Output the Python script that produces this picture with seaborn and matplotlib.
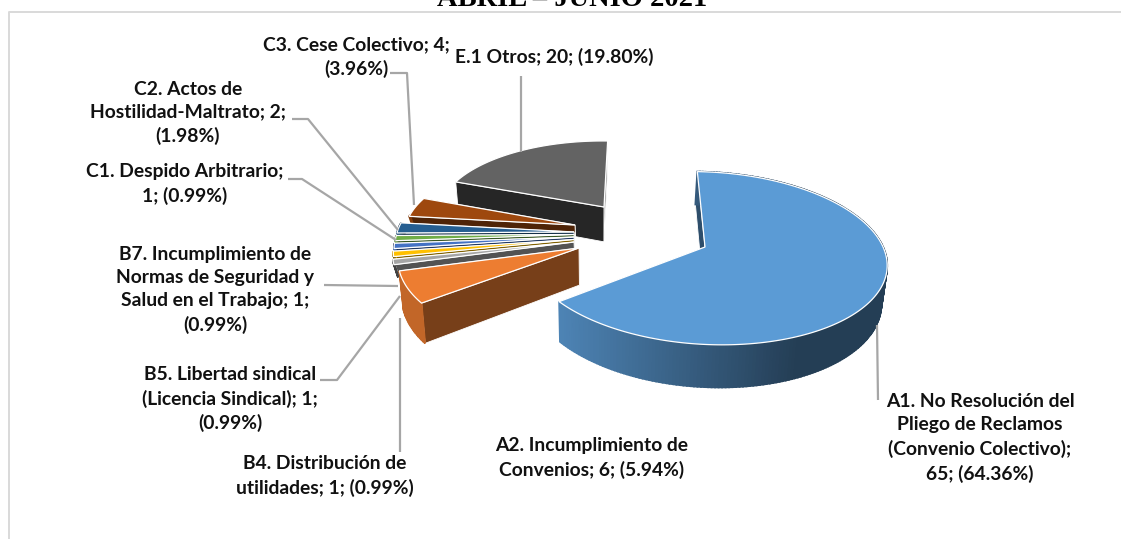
import numpy as np
import matplotlib
matplotlib.use("Agg")
import matplotlib.pyplot as plt
import matplotlib.colors as mc
from matplotlib.patches import Polygon
import seaborn as sns

# ---- data ----
names = ["A1", "A2", "B4", "B5", "B7", "C1", "C2", "C3", "E1"]
values = [65, 6, 1, 1, 1, 1, 2, 4, 20]
label_texts = [
    "A1. No Resolución del\nPliego de Reclamos\n(Convenio Colectivo);\n65; (64.36%)",
    "A2. Incumplimiento de\nConvenios; 6; (5.94%)",
    "B4. Distribución de\nutilidades; 1; (0.99%)",
    "B5. Libertad sindical\n(Licencia Sindical); 1;\n(0.99%)",
    "B7. Incumplimiento de\nNormas de Seguridad y\nSalud en el Trabajo; 1;\n(0.99%)",
    "C1. Despido Arbitrario;\n1; (0.99%)",
    "C2. Actos de\nHostilidad-Maltrato; 2;\n(1.98%)",
    "C3. Cese Colectivo; 4;\n(3.96%)",
    "E.1 Otros; 20; (19.80%)",
]
title_text = "ABRIL – JUNIO 2021"
slice_hex = ["#5B9BD5", "#ED7D31", "#A5A5A5", "#FFC000", "#4472C4",
             "#70AD47", "#255E91", "#9E480E", "#636363"]

# ---- layout (pixels of the picture) ----
W, H = 1121, 539
apex_px = [(705, 247), (579, 248), (574, 242), (574, 239.5), (574, 237),
           (574, 234.5), (574, 232), (575, 225), (604, 207)]
radii = [0.945, 0.95, 0.96, 0.96, 0.96, 0.96, 0.96, 0.93, 0.93]
depths = [36, 36, 12, 10, 10, 10, 10, 12, 36]
label_xy = [(980, 438), (592, 458), (325, 476), (230, 399), (215, 290),
            (185, 184), (188, 113), (356, 57), (554, 57)]
leaders = [
    [(877, 325), (878, 400)],
    None,
    [(400, 452), (400, 318)],
    [(320, 380), (337, 380), (400, 296)],
    [(324, 285), (398, 286)],
    [(288, 179), (302, 179), (396, 240)],
    [(292, 119), (308, 119), (398, 230)],
    [(390, 73), (407, 73), (414, 205)],
    [(521, 76), (521, 152)],
]
X0, Y0, RX, RY, P, FIRST_ANGLE = 590, 228, 183, 85, 0.133, 2
VANISH_X, SHRINK = 600, 0.98

sns.set_theme(style="white")
plt.rcParams["font.family"] = ["Lato", "DejaVu Sans"]
palette = sns.color_palette(slice_hex)


def project(u, v):
    s = 1 / (1 + P * v)
    return X0 + RX * u * s, Y0 - RY * v * s, s


def unproject(x, y):
    d = (Y0 - y) / RY
    v = d / (1 - P * d)
    return (x - X0) / RX * (1 + P * v), v


def darker(c, f):
    return tuple(np.array(mc.to_rgb(c)) * f)


def lower_x(x):
    return VANISH_X + (np.asarray(x) - VANISH_X) * SHRINK


fig = plt.figure(figsize=(W / 100, H / 100), dpi=100)
ax = fig.add_axes([0, 0, 1, 1])

# the pie gives each slice its angles; the slices are then redrawn in perspective
wedges, _ = ax.pie(values, startangle=90 - FIRST_ANGLE, counterclock=False,
                   radius=1, colors=palette)
angles = [(w.theta1, w.theta2) for w in wedges]
for w in wedges:
    w.remove()
ax.set_aspect("auto")
ax.set_xlim(0, W)
ax.set_ylim(H, 0)
ax.axis("off")

z = 2
for i in range(len(values) - 1, -1, -1):
    t1, t2 = np.radians(angles[i])
    col = palette[i]
    au, av = unproject(*apex_px[i])
    th = np.linspace(t1, t2, max(8, int(np.degrees(t2 - t1))))
    u = au + radii[i] * np.cos(th)
    v = av + radii[i] * np.sin(th)
    x, y, s = project(u, v)
    ax_, ay_, as_ = project(au, av)
    low = y + depths[i] * s
    lowx = lower_x(x)
    a_low = ay_ + depths[i] * as_
    a_lowx = lower_x(ax_)
    wall = darker(col, 0.5)
    # radial walls
    for k in (0, -1):
        c = wall
        if names[i] == "E1":
            c = "#262626" if k == 0 else "#8A8A8A"
            c = "#8A8A8A" if np.cos(th[k]) > 0 and abs(np.sin(th[k])) > 0.9 else "#262626"
        ax.add_patch(Polygon([(ax_, ay_), (x[k], y[k]), (lowx[k], low[k]), (a_lowx, a_low)],
                             closed=True, facecolor=c, edgecolor="white", lw=0.6, zorder=z))
        z += 1
    # outer rim, shaded along the arc
    left_c = np.array(darker(col, 0.85))
    right_c = np.array(darker(col, 0.40))
    for j in np.argsort(-v[:-1]):
        if np.sin(th[j]) > 0.15 and names[i] != "A1":
            continue
        f = np.clip((x[j] - x.min()) / (0.72 * (x.max() - x.min())), 0, 1)
        c = left_c * (1 - f) + right_c * f
        if names[i] == "A2":
            c = np.array(darker(col, 0.82))
        ax.add_patch(Polygon([(x[j], y[j]), (x[j + 1], y[j + 1]),
                              (lowx[j + 1], low[j + 1]), (lowx[j], low[j])],
                             closed=True, facecolor=c, edgecolor=c, lw=1.3, zorder=z))
        z += 1
    # top face
    ax.add_patch(Polygon(np.column_stack([np.r_[ax_, x], np.r_[ay_, y]]), closed=True,
                         facecolor=col, edgecolor="white", lw=0.9, zorder=z))
    z += 1

z += 1
for line in leaders:
    if line is not None:
        lx, ly = zip(*line)
        ax.plot(lx, ly, color="#A6A6A6", lw=1.6, zorder=z, solid_capstyle="butt")

for txt, (tx, ty) in zip(label_texts, label_xy):
    ax.text(tx, ty, txt, ha="center", va="center", fontsize=13.9, fontweight="bold",
            color="#111111", linespacing=1.43, zorder=z + 1)

# chart frame and cropped heading
ax.plot([9, 9, W], [H, 12, 12], color="#D9D9D9", lw=1.4, zorder=1)
ax.text(572, 6, title_text, ha="center", va="baseline", fontsize=20.5, fontweight="bold",
        family=["Liberation Serif"], color="black", clip_on=True)

fig.savefig("out.png", dpi=100)
